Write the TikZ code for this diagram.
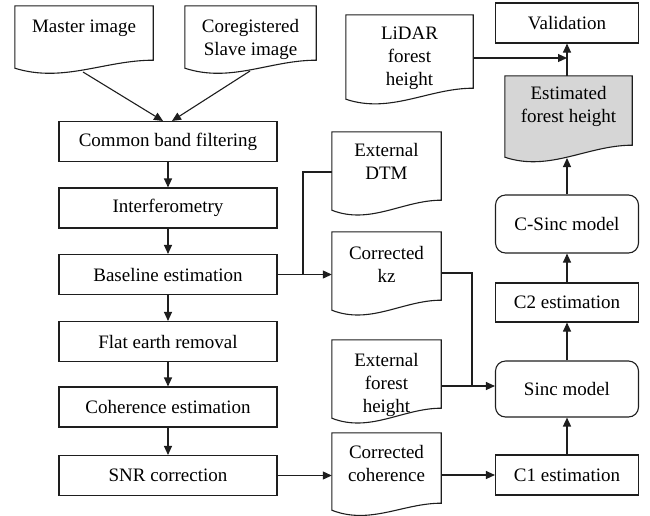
\documentclass[tikz,border=0pt]{standalone}
\usepackage{fontspec}
\setmainfont{Liberation Serif}
\usetikzlibrary{arrows.meta,calc,backgrounds}
\definecolor{linec}{RGB}{30,30,30}
\definecolor{docfill}{RGB}{214,214,214}
% #1 extra options, #2 node name, #3 drop of left corner below south, #4 drop of right corner below south
\newcommand\docshape[4][]{%
  \begin{scope}[on background layer]
  \path[docline,#1] (#2.north west) -- (#2.north east)
    -- ($(#2.south east)+(0,#4)$)
    .. controls ($(#2.south west)!0.65!(#2.south east)+(0,#4)$)
       and ($(#2.south west)!0.35!(#2.south east)+(0,#3+15)$)
    .. ($(#2.south west)+(0,#3)$) -- cycle;
  \end{scope}}
\tikzset{
  every node/.style={font=\fontsize{19}{23}\selectfont, align=center, inner sep=0pt, text=black},
  procbox/.style={draw=linec, line width=1.1pt, minimum width=218pt, minimum height=40pt},
  rbox/.style={draw=linec, line width=1.1pt, minimum width=143pt},
  roundbox/.style={rbox, rounded corners=10pt},
  docnode/.style={draw=none},
  docline/.style={draw=linec, line width=1.1pt, fill=white},
  conn/.style={draw=linec, line width=1.1pt},
  arr/.style={conn, -{Triangle[length=9pt,width=8pt]}},
}
\begin{document}
\begin{tikzpicture}[x=1pt,y=-1pt]
\useasboundingbox (0,0) rectangle (650,515);

% left column
\node[procbox] (cbf) at (168,141.5) {Common band filtering};
\node[procbox] (interf) at (168,208) {Interferometry};
\node[procbox] (base) at (168,274.5) {Baseline estimation};
\node[procbox] (flat) at (168,341.5) {Flat earth removal};
\node[procbox] (coh) at (168,407) {Coherence estimation};
\node[procbox] (snr) at (168,475.5) {SNR correction};

% documents
\node[docnode, minimum width=138pt, minimum height=44pt] (master) at (84,28) {Master image};
\docshape{master}{18}{10}
\node[docnode, minimum width=131pt, minimum height=67pt] (coreg) at (250.5,39.5) {Coregistered\\Slave image};
\docshape{coreg}{-5}{-13}
\node[docnode, minimum width=127pt, minimum height=86pt] (lidar) at (409.5,58) {LiDAR\\forest\\height};
\docshape{lidar}{-2}{-13}
\node[docnode, minimum width=127pt, minimum height=60pt] (est) at (568.5,106) {Estimated\\forest height};
\docshape[fill=docfill]{est}{21}{9}
\node[docnode, minimum width=109pt, minimum height=58pt] (dtm) at (386.5,161) {External\\DTM};
\docshape{dtm}{20}{10}
\node[docnode, minimum width=109pt, minimum height=64pt] (kz) at (386.5,264) {Corrected\\kz};
\docshape{kz}{14}{4}
\node[docnode, minimum width=109pt, minimum height=89pt] (extfh) at (386.5,384.5) {External\\forest\\height};
\docshape{extfh}{-11}{-21}
\node[docnode, minimum width=109pt, minimum height=61pt] (corrcoh) at (386.5,463.5) {Corrected\\coherence};
\docshape{corrcoh}{16}{9}

% right column
\node[rbox, minimum height=40pt] (val) at (567,23) {Validation};
\node[roundbox, minimum height=58pt] (csinc) at (567,224) {C-Sinc model};
\node[rbox, minimum height=39pt] (c2) at (567,302.5) {C2 estimation};
\node[roundbox, minimum height=56pt] (sinc) at (567,389) {Sinc model};
\node[rbox, minimum height=40pt] (c1) at (567,475) {C1 estimation};

% helper coordinates
\coordinate (master-out) at (83,72);
\coordinate (coreg-out) at (250,71);
\coordinate (est-in) at (567,158);
\coordinate (j1) at (303,274.5);
\coordinate (j2) at (472,386);

% connectors
\draw[arr] (master-out) -- ([xshift=-5pt]cbf.north);
\draw[arr] (coreg-out) -- ([xshift=4pt]cbf.north);
\draw[arr] (cbf) -- (interf);
\draw[arr] (interf) -- (base);
\draw[arr] (base) -- (flat);
\draw[arr] (flat) -- (coh);
\draw[arr] (coh) -- (snr);

\draw[arr] (base.east) -- (base.east -| kz.west);
\draw[conn] (j1) |- ([yshift=-11pt]dtm.west);
\draw[conn] ([yshift=-9pt]kz.east) -| (j2);
\draw[arr] (extfh.east |- j2) -- (sinc.west |- j2);
\draw[arr] (snr.east) -- (snr.east -| corrcoh.west);
\draw[arr] (corrcoh.east |- c1.west) -- (c1.west);

\draw[arr, line width=1.5pt] (c1) -- (sinc);
\draw[arr] (sinc) -- (c2);
\draw[arr] (c2) -- (csinc);
\draw[arr] (csinc.north) -- (est-in);
\draw[arr] (val.south |- est.north) -- (val.south);
\draw[arr] (lidar.east) -- (lidar.east -| val.south);
\end{tikzpicture}
\end{document}
